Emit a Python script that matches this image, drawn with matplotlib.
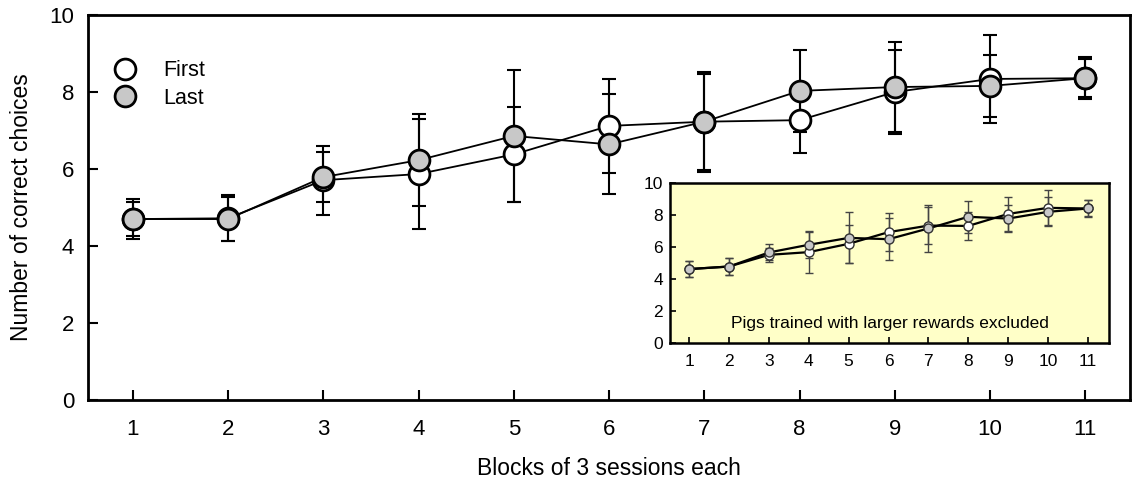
import numpy as np
import matplotlib.pyplot as plt

plt.rcParams['font.family'] = ['Liberation Sans', 'DejaVu Sans']

# Main panel data
blocks = np.arange(1, 12)
first_mean = [4.70, 4.72, 5.71, 5.87, 6.38, 7.12, 7.23, 7.27, 8.00, 8.34, 8.36]
first_err = [0.52, 0.60, 0.90, 1.43, 1.24, 1.22, 1.30, 0.85, 1.10, 1.15, 0.55]
last_mean = [4.70, 4.70, 5.79, 6.23, 6.86, 6.64, 7.23, 8.03, 8.13, 8.16, 8.36]
last_err = [0.44, 0.58, 0.65, 1.20, 1.72, 1.30, 1.25, 1.06, 1.17, 0.80, 0.50]

# Inset data (pigs trained with larger rewards excluded)
in_first_mean = [4.63, 4.79, 5.52, 5.69, 6.21, 6.94, 7.35, 7.33, 8.08, 8.46, 8.42]
in_first_err = [0.52, 0.55, 0.45, 1.33, 1.20, 1.20, 1.15, 0.85, 1.05, 1.10, 0.55]
in_last_mean = [4.63, 4.79, 5.67, 6.15, 6.58, 6.50, 7.17, 7.90, 7.79, 8.21, 8.42]
in_last_err = [0.50, 0.52, 0.50, 0.80, 1.60, 1.33, 1.45, 1.00, 0.85, 0.90, 0.50]

fig = plt.figure(figsize=(11.34, 4.86), dpi=100)
ax = fig.add_axes([0.0776, 0.177, 0.919, 0.792])

ax.errorbar(blocks, first_mean, yerr=first_err, fmt='none', ecolor='black',
            elinewidth=1.5, capsize=5, capthick=1.5, zorder=2)
ax.errorbar(blocks, last_mean, yerr=last_err, fmt='none', ecolor='black',
            elinewidth=1.5, capsize=5, capthick=1.5, zorder=2)
ax.plot(blocks, first_mean, '-o', color='black', lw=1.3, ms=15, mfc='white',
        mec='black', mew=2, label='First', zorder=3)
ax.plot(blocks, last_mean, '-o', color='black', lw=1.3, ms=15, mfc='#c8c8c8',
        mec='black', mew=2, label='Last', zorder=4)

ax.set_xlim(0.53, 11.47)
ax.set_ylim(0, 10)
ax.set_xticks(blocks)
ax.set_yticks(range(0, 11, 2))
ax.tick_params(direction='in', length=7, width=1.5, labelsize=16)
ax.tick_params(axis='x', pad=14)
ax.tick_params(axis='y', pad=10)
for s in ax.spines.values():
    s.set_linewidth(2)
ax.set_xlabel('Blocks of 3 sessions each', fontsize=16.5, labelpad=12)
ax.set_ylabel('Number of correct choices', fontsize=16.5, labelpad=12)

leg = ax.legend(loc='upper left', bbox_to_anchor=(-0.008, 0.972), frameon=False,
                fontsize=15.5, handlelength=1.0, handletextpad=1.3,
                labelspacing=0.3, borderaxespad=1.2)
for h in leg.legend_handles:
    h.set_linestyle('none')

# Inset
axi = fig.add_axes([0.5908, 0.294, 0.3872, 0.329])
axi.set_facecolor('#ffffc8')
axi.errorbar(blocks, in_first_mean, yerr=in_first_err, fmt='none',
             ecolor='#444444', elinewidth=1, capsize=3, capthick=1, zorder=2)
axi.errorbar(blocks, in_last_mean, yerr=in_last_err, fmt='none',
             ecolor='#444444', elinewidth=1, capsize=3, capthick=1, zorder=2)
axi.plot(blocks, in_first_mean, '-o', color='black', lw=1.6, ms=6.5,
         mfc='white', mec='#333333', mew=1, zorder=3)
axi.plot(blocks, in_last_mean, '-o', color='black', lw=1.6, ms=6.5,
         mfc='#c8c8c8', mec='#333333', mew=1, zorder=4)
axi.set_xlim(0.52, 11.53)
axi.set_ylim(0, 10)
axi.set_xticks(blocks)
axi.set_yticks(range(0, 11, 2))
axi.tick_params(direction='in', length=4, width=1.2, labelsize=12.5)
axi.tick_params(axis='x', pad=8)
axi.tick_params(axis='y', pad=5)
for s in axi.spines.values():
    s.set_linewidth(1.8)
axi.text(0.5, 0.12, 'Pigs trained with larger rewards excluded',
         transform=axi.transAxes, ha='center', va='center', fontsize=12.5)

fig.savefig('out.png', dpi=100)
